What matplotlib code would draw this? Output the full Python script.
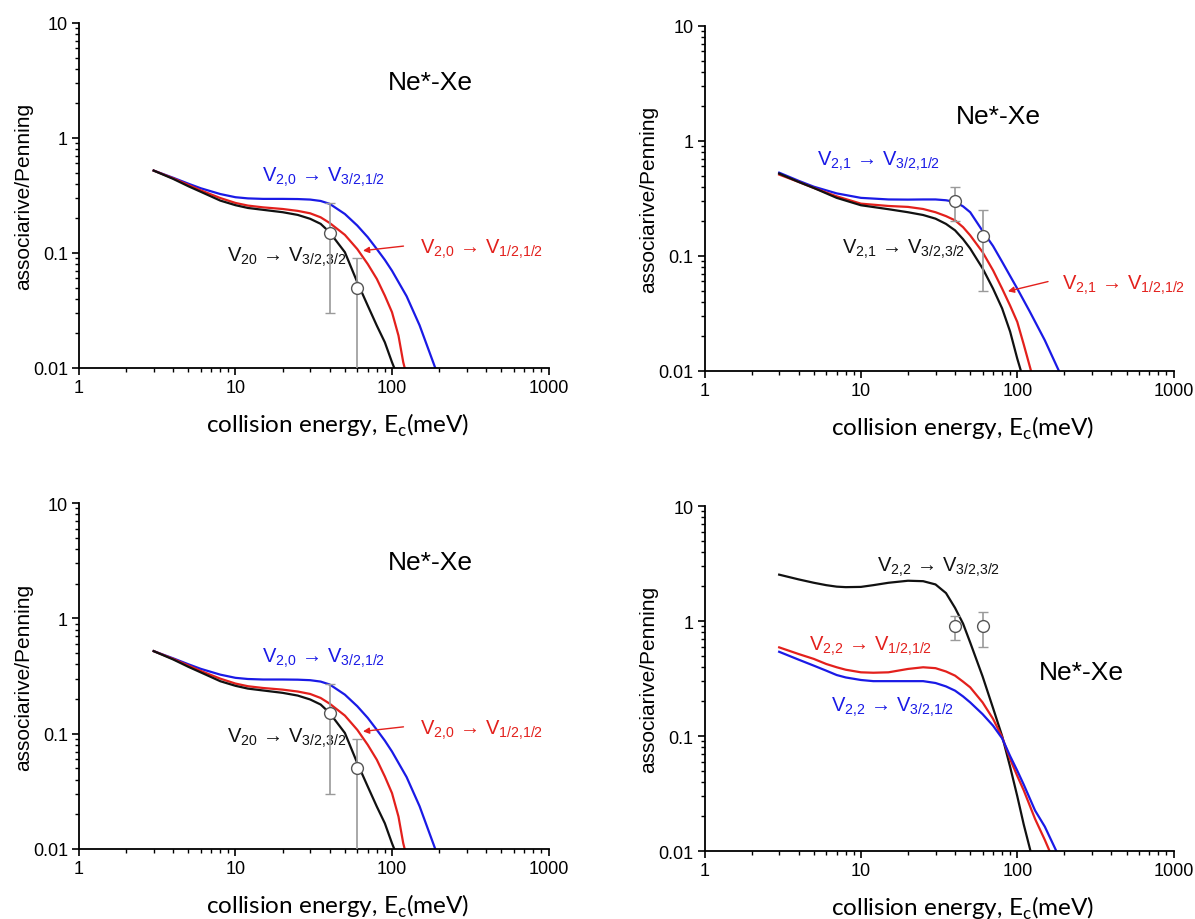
import matplotlib
matplotlib.use("Agg")
import matplotlib.pyplot as plt
from matplotlib.ticker import LogLocator, NullFormatter, FixedLocator, FixedFormatter

plt.rcParams['font.family'] = ['Liberation Sans', 'DejaVu Sans']
plt.rcParams['mathtext.fontset'] = 'custom'
plt.rcParams['mathtext.rm'] = 'Liberation Sans'

# ---- data ----
# panels 1 and 3 (V2,0)
e20b = [3, 4, 5, 6, 8, 10, 12, 15, 20, 25, 30, 35, 40, 50, 60, 70, 80, 90, 100, 124, 150, 190]
blue20 = [0.52, 0.45, 0.40, 0.365, 0.325, 0.305, 0.298, 0.295, 0.295, 0.294, 0.291, 0.283, 0.267,
          0.218, 0.173, 0.137, 0.108, 0.087, 0.070, 0.042, 0.0235, 0.0098]
e20r = [3, 4, 5, 6, 8, 10, 12, 15, 20, 25, 30, 35, 40, 50, 60, 70, 80, 90, 100, 110, 118, 121]
red20 = [0.52, 0.445, 0.39, 0.35, 0.30, 0.272, 0.258, 0.249, 0.241, 0.232, 0.221, 0.204, 0.182,
         0.1435, 0.108, 0.080, 0.0594, 0.0425, 0.0305, 0.0191, 0.0112, 0.0098]
e20k = [3, 4, 5, 6, 8, 10, 12, 15, 20, 25, 30, 35, 40, 50, 60, 70, 80, 90, 100, 104]
black20 = [0.52, 0.44, 0.38, 0.34, 0.285, 0.26, 0.246, 0.237, 0.226, 0.214, 0.198, 0.179, 0.151,
           0.1014, 0.0556, 0.0348, 0.0233, 0.0167, 0.0112, 0.0098]
pts20_x = [40, 60]
pts20_y = [0.15, 0.05]
pts20_lo = [0.03, 0.001]
pts20_hi = [0.27, 0.09]

# panel 2 (V2,1)
e21b = [3, 4, 5, 7, 10, 15, 20, 25, 30, 35, 40, 45, 50, 60, 70, 80, 90, 100, 120, 150, 186]
blue21 = [0.53, 0.45, 0.40, 0.35, 0.32, 0.31, 0.309, 0.31, 0.31, 0.305, 0.295, 0.27, 0.24, 0.165,
          0.122, 0.089, 0.067, 0.052, 0.033, 0.0185, 0.0098]
e21r = [3, 4, 5, 7, 10, 15, 20, 25, 30, 35, 40, 45, 50, 60, 70, 80, 90, 100, 110, 123]
red21 = [0.51, 0.44, 0.39, 0.33, 0.285, 0.272, 0.267, 0.256, 0.24, 0.222, 0.204, 0.178, 0.151, 0.108,
         0.075, 0.052, 0.037, 0.0267, 0.017, 0.0098]
e21k = [3, 4, 5, 7, 10, 15, 20, 25, 30, 35, 40, 45, 50, 60, 70, 80, 90, 100, 106]
black21 = [0.52, 0.44, 0.39, 0.32, 0.276, 0.255, 0.24, 0.227, 0.211, 0.19, 0.167, 0.14, 0.116, 0.078,
           0.052, 0.035, 0.022, 0.0128, 0.0098]
pts21_x = [40, 60]
pts21_y = [0.30, 0.15]
pts21_lo = [0.20, 0.05]
pts21_hi = [0.40, 0.25]

# panel 4 (V2,2)
e22k = [3, 4, 5, 6, 7, 8, 10, 12, 15, 20, 25, 30, 35, 40, 45, 50, 60, 70, 80, 90, 100, 110, 122]
black22 = [2.53, 2.3, 2.15, 2.05, 1.99, 1.97, 1.98, 2.05, 2.15, 2.24, 2.22, 2.08, 1.75, 1.3, 0.95,
           0.65, 0.33, 0.175, 0.10, 0.054, 0.030, 0.017, 0.0098]
e22r = [3, 4, 5, 6, 7, 8, 10, 12, 15, 20, 25, 30, 35, 40, 45, 50, 60, 70, 80, 90, 100, 110, 130, 150, 162]
red22 = [0.59, 0.516, 0.468, 0.423, 0.396, 0.377, 0.358, 0.355, 0.358, 0.383, 0.396, 0.389, 0.364,
         0.335, 0.297, 0.265, 0.196, 0.141, 0.098, 0.063, 0.045, 0.0337, 0.019, 0.0125, 0.0098]
e22b = [3, 4, 5, 6, 7, 8, 10, 12, 15, 20, 25, 30, 35, 40, 45, 50, 60, 70, 80, 90, 100, 110, 130, 150, 179]
blue22 = [0.54, 0.461, 0.409, 0.37, 0.339, 0.323, 0.307, 0.30, 0.30, 0.30, 0.30, 0.289, 0.27, 0.248,
          0.221, 0.196, 0.155, 0.123, 0.0955, 0.067, 0.050, 0.0378, 0.0225, 0.0163, 0.0098]
pts22_x = [40, 60]
pts22_y = [0.9, 0.9]
pts22_lo = [0.69, 0.6]
pts22_hi = [1.1, 1.2]

BLUE = '#1a1ae6'
RED = '#e3201c'
BLACK = '#111111'
GREY = '#9a9a9a'


def lbl(a, b):
    a = a.replace(',', '{,}')
    b = b.replace(',', '{,}')
    return r'V$_\mathregular{%s}$ → V$_\mathregular{%s}$' % (a, b)


def setup(ax):
    ax.set_xscale('log')
    ax.set_yscale('log')
    ax.set_xlim(1, 1000)
    ax.set_ylim(0.01, 10)
    for s in ['top', 'right']:
        ax.spines[s].set_visible(False)
    for s in ['left', 'bottom']:
        ax.spines[s].set_linewidth(1.3)
    ax.xaxis.set_major_locator(FixedLocator([1, 10, 100, 1000]))
    ax.xaxis.set_major_formatter(FixedFormatter(['1', '10', '100', '1000']))
    ax.yaxis.set_major_locator(FixedLocator([0.01, 0.1, 1, 10]))
    ax.yaxis.set_major_formatter(FixedFormatter(['0.01', '0.1', '1', '10']))
    ax.xaxis.set_minor_locator(LogLocator(base=10, subs=range(2, 10)))
    ax.yaxis.set_minor_locator(LogLocator(base=10, subs=range(2, 10)))
    ax.xaxis.set_minor_formatter(NullFormatter())
    ax.yaxis.set_minor_formatter(NullFormatter())
    ax.tick_params(which='major', direction='out', length=5, width=1.2, labelsize=13, pad=3)
    ax.tick_params(which='minor', direction='out', length=3, width=1.0)
    ax.set_ylabel('associarive/Penning', fontsize=15)
    ax.yaxis.set_label_coords(-0.098, 0.5)
    ax.set_xlabel(r'collision energy, E$_\mathregular{c}$(meV)', fontsize=17.5, family=['Lato', 'DejaVu Sans'])
    ax.xaxis.set_label_coords(0.55, -0.125)


def points(ax, x, y, lo, hi):
    yerr = [[v - l for v, l in zip(y, lo)], [h - v for v, h in zip(y, hi)]]
    ax.errorbar(x, y, yerr=yerr, fmt='o', ms=8.5, mfc='white', mec='#555555', mew=1.0,
                ecolor=GREY, elinewidth=1.2, capsize=3.5, capthick=1.2, zorder=5)


fig = plt.figure(figsize=(11.95, 9.2), dpi=100)
ax1 = fig.add_axes([0.0661, 0.599, 0.3929, 0.375])
ax2 = fig.add_axes([0.5896, 0.5957, 0.3925, 0.375])
ax3 = fig.add_axes([0.0661, 0.0761, 0.3929, 0.376])
ax4 = fig.add_axes([0.5896, 0.0739, 0.3925, 0.375])

LW = 1.6
FS = 14.5

# panels 1 and 3 are the same plot
for ax in (ax1, ax3):
    setup(ax)
    ax.plot(e20b, blue20, color=BLUE, lw=LW)
    ax.plot(e20r, red20, color=RED, lw=LW)
    ax.plot(e20k, black20, color=BLACK, lw=LW)
    points(ax, pts20_x, pts20_y, pts20_lo, pts20_hi)
    ax.text(0.748, 0.829, 'Ne*-Xe', transform=ax.transAxes, fontsize=19, ha='center', va='center')
    ax.text(0.389, 0.554, lbl('2,0', '3/2,1/2'), transform=ax.transAxes, fontsize=FS, color=BLUE, va='center')
    ax.text(0.315, 0.322, lbl('20', '3/2,3/2'), transform=ax.transAxes, fontsize=FS, color=BLACK, va='center')
    ax.text(0.726, 0.345, lbl('2,0', '1/2,1/2'), transform=ax.transAxes, fontsize=FS, color=RED, va='center')
    ax.annotate('', xy=(0.599, 0.339), xytext=(0.697, 0.354), xycoords='axes fraction',
                arrowprops=dict(arrowstyle='-|>', color=RED, lw=1.0, mutation_scale=9))

# panel 2
setup(ax2)
ax2.plot(e21b, blue21, color=BLUE, lw=LW)
ax2.plot(e21r, red21, color=RED, lw=LW)
ax2.plot(e21k, black21, color=BLACK, lw=LW)
points(ax2, pts21_x, pts21_y, pts21_lo, pts21_hi)
ax2.text(0.626, 0.739, 'Ne*-Xe', transform=ax2.transAxes, fontsize=19, ha='center', va='center')
ax2.text(0.240, 0.609, lbl('2,1', '3/2,1/2'), transform=ax2.transAxes, fontsize=FS, color=BLUE, va='center')
ax2.text(0.294, 0.354, lbl('2,1', '3/2,3/2'), transform=ax2.transAxes, fontsize=FS, color=BLACK, va='center')
ax2.text(0.762, 0.252, lbl('2,1', '1/2,1/2'), transform=ax2.transAxes, fontsize=FS, color=RED, va='center')
ax2.annotate('', xy=(0.641, 0.229), xytext=(0.738, 0.261), xycoords='axes fraction',
             arrowprops=dict(arrowstyle='-|>', color=RED, lw=1.0, mutation_scale=9))

# panel 4
setup(ax4)
ax4.plot(e22k, black22, color=BLACK, lw=LW)
ax4.plot(e22r, red22, color=RED, lw=LW)
ax4.plot(e22b, blue22, color=BLUE, lw=LW)
points(ax4, pts22_x, pts22_y, pts22_lo, pts22_hi)
ax4.text(0.803, 0.519, 'Ne*-Xe', transform=ax4.transAxes, fontsize=19, ha='center', va='center')
ax4.text(0.367, 0.826, lbl('2,2', '3/2,3/2'), transform=ax4.transAxes, fontsize=FS, color=BLACK, va='center')
ax4.text(0.223, 0.597, lbl('2,2', '1/2,1/2'), transform=ax4.transAxes, fontsize=FS, color=RED, va='center')
ax4.text(0.269, 0.420, lbl('2,2', '3/2,1/2'), transform=ax4.transAxes, fontsize=FS, color=BLUE, va='center')

fig.savefig('out.png', dpi=100)
